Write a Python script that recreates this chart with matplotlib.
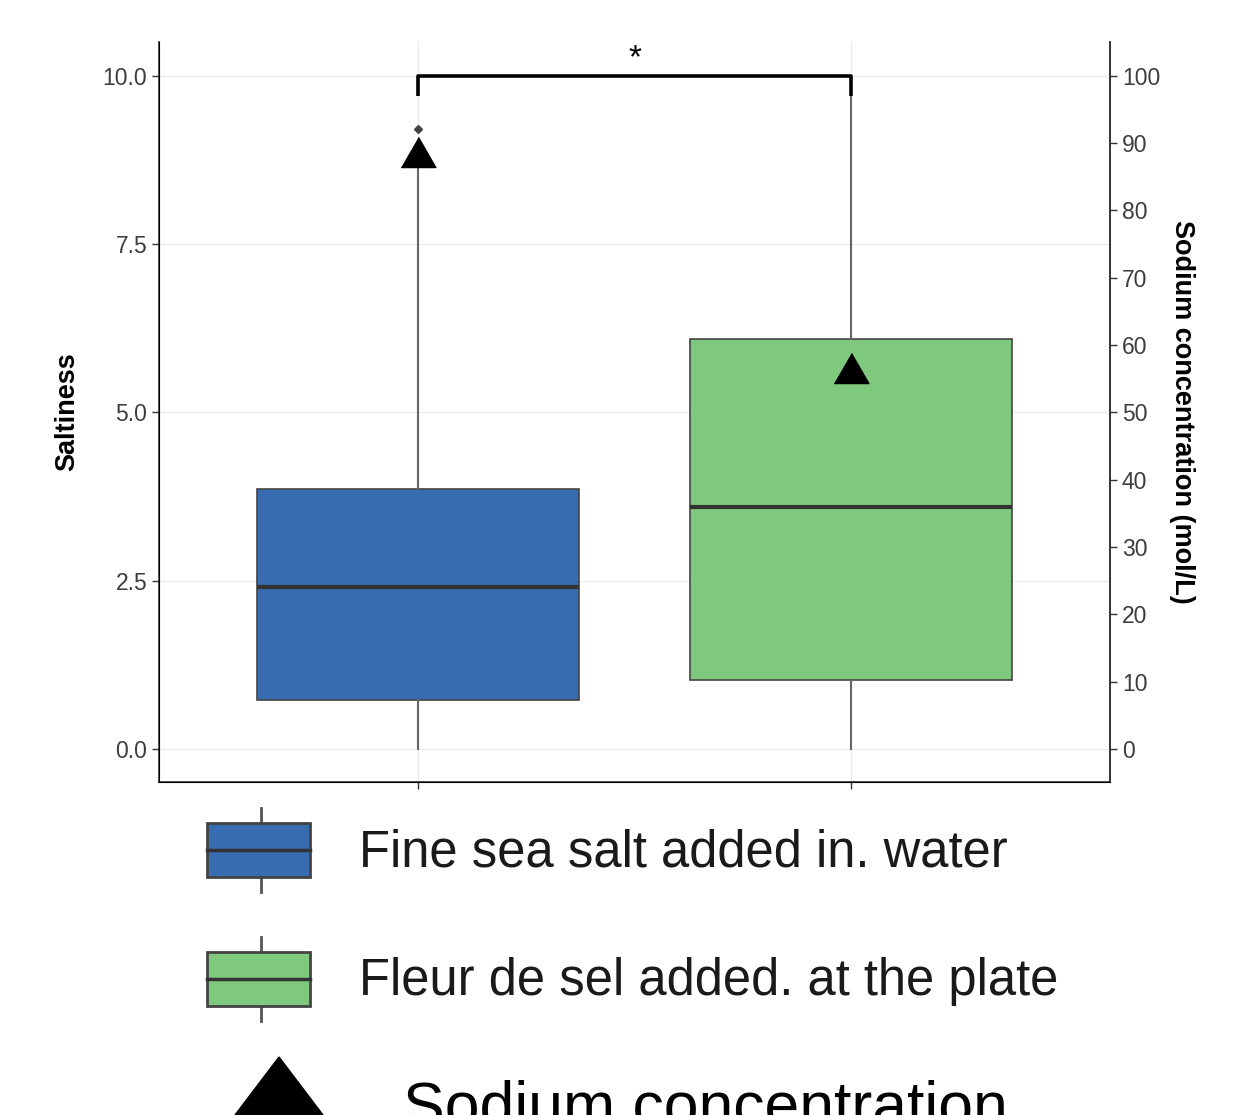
import matplotlib
matplotlib.use("Agg")
import matplotlib.pyplot as plt
from matplotlib.patches import Rectangle, Polygon

plt.rcParams['font.family'] = ['Liberation Sans', 'DejaVu Sans']

# data
groups = ["Fine sea salt added in. water", "Fleur de sel added. at the plate"]
positions = [1, 2]
q1 = [0.73, 1.03]
median = [2.41, 3.60]
q3 = [3.86, 6.09]
whis_low = [0.0, 0.0]
whis_high = [8.80, 9.68]
outliers = [[9.21], []]
sodium = [88.6, 56.6]          # mol/L, right axis
box_colors = ["#386cb0", "#7fc97f"]
signif_label = "*"
bracket_low = 9.69
bracket_top = 10.0

fig = plt.figure(figsize=(12.39, 11.15), dpi=100)
ax = fig.add_axes([0.1283, 0.2987, 0.7676, 0.6637])

stats = []
for i in range(len(groups)):
    stats.append(dict(med=median[i], q1=q1[i], q3=q3[i], whislo=whis_low[i],
                      whishi=whis_high[i], fliers=outliers[i], label=groups[i]))

bp = ax.bxp(stats, positions=positions, widths=0.744, patch_artist=True,
            showcaps=False,
            boxprops=dict(edgecolor="#444444", linewidth=1.2),
            medianprops=dict(color="#333333", linewidth=3),
            whiskerprops=dict(color="#666666", linewidth=1.5),
            flierprops=dict(marker="D", markersize=4, markerfacecolor="#444444",
                            markeredgecolor="#444444"))
for patch, c in zip(bp["boxes"], box_colors):
    patch.set_facecolor(c)

# significance bracket
ax.plot([positions[0], positions[0], positions[1], positions[1]],
        [bracket_low, bracket_top, bracket_top, bracket_low],
        color="black", linewidth=2.6, solid_capstyle="butt", zorder=5)
ax.text((positions[0] + positions[1]) / 2, 10.25, signif_label, ha="center",
        va="center", fontsize=24, color="black")

ax.set_xlim(0.402, 2.598)
ax.set_ylim(-0.49, 10.5)
ax.set_yticks([0, 2.5, 5, 7.5, 10])
ax.set_yticklabels(["0.0", "2.5", "5.0", "7.5", "10.0"])
ax.set_xticks(positions)
ax.set_xticklabels(["", ""])
ax.grid(True, color="#ebebeb", linewidth=0.9)
ax.set_axisbelow(True)
ax.spines["top"].set_visible(False)
for s in ["left", "bottom", "right"]:
    ax.spines[s].set_color("#333333")
    ax.spines[s].set_linewidth(1.2)
ax.tick_params(axis="both", length=5, color="#333333", labelsize=16.5,
               labelcolor="#3d3d3d", width=1)
ax.set_ylabel("Saltiness", fontsize=19.5, fontweight="bold", color="black")
ax.yaxis.set_label_coords(-0.083, 0.5)

# equilateral triangle marker like ggplot's shape 17
tri = [(-1, -0.866), (1, -0.866), (0, 0.866)]
ax2 = ax.twinx()
ax2.set_ylim(-4.9, 105)
ax2.set_yticks(range(0, 101, 10))
ax2.plot(positions, sodium, linestyle="none", marker=tri, markersize=25,
         color="black")
ax2.spines["top"].set_visible(False)
ax2.spines["right"].set_color("#333333")
ax2.spines["right"].set_linewidth(1.2)
ax2.tick_params(axis="y", length=5, color="#333333", labelsize=16.5,
                labelcolor="#3d3d3d", width=1)
ax2.set_ylabel("Sodium concentration (mol/L)", fontsize=19.5, fontweight="bold",
               rotation=270, color="black")
ax2.yaxis.set_label_coords(1.0894, 0.5)

# legend below the panel, drawn in pixel space
lax = fig.add_axes([0, 0, 1, 1])
lax.set_xlim(0, 1239)
lax.set_ylim(1115, 0)
lax.axis("off")
lax.patch.set_visible(False)

legend_rows = [850, 979]
for yc, c, name in zip(legend_rows, box_colors, groups):
    lax.plot([261, 261], [yc - 42, yc + 42], color="#555555", linewidth=2)
    lax.add_patch(Rectangle((207, yc - 27), 103, 54, facecolor=c,
                            edgecolor="#444444", linewidth=2, zorder=3))
    lax.plot([207, 310], [yc, yc], color="#333333", linewidth=2.5, zorder=4)
    lax.text(359, yc + 3, name, fontsize=36.5, color="#1a1a1a", ha="left",
             va="center")

lax.add_patch(Polygon([[279, 1057], [235, 1115], [323, 1115]], closed=True,
                      facecolor="black", edgecolor="black"))
lax.text(403, 1125, "Sodium concentration", fontsize=45, color="black",
         ha="left", va="baseline")

fig.savefig("out.png", dpi=100)
